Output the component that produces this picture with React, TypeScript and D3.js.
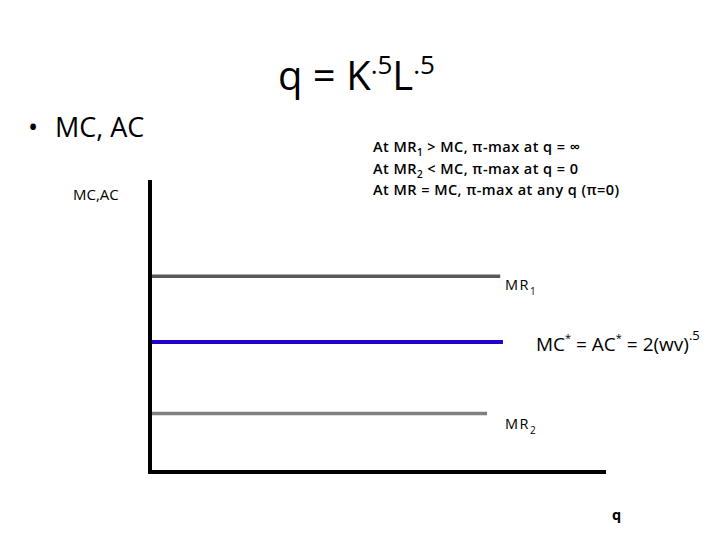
import React from "react";
import * as d3 from "d3";

// horizontal curves: level on the price axis, how far they run along q
const curveNames = ["MR1", "MC", "MR2"];
const curveLevels = [6.7, 4.45, 2.0];
const curveEnds = [7.68, 7.74, 7.39];
const curveColors = ["#595959", "#2200cc", "#808080"];

const notes = [
  ["At MR", "1", " > MC, π-max at q = ∞"],
  ["At MR", "2", " < MC, π-max at q = 0"],
  ["At MR = MC, π-max at any q (π=0)", "", ""],
];

const W = 720,
  H = 540;
const font = "'Open Sans', 'Noto Sans', sans-serif";

const App = () => {
  const x = d3.scaleLinear().domain([0, 10]).range([150, 606]);
  const y = d3.scaleLinear().domain([0, 10]).range([472, 180]);

  return (
    <svg
      width={W}
      height={H}
      style={{ position: "absolute", left: 0, top: 0, background: "#fff" }}
      fontFamily={font}
    >
      {/* title formula */}
      <text x={278} y={90} fontSize={40} fill="#000">
        q = K
        <tspan dy={-16} fontSize={26}>.5</tspan>
        <tspan dy={16}>L</tspan>
        <tspan dy={-16} fontSize={26}>.5</tspan>
      </text>

      <text x={28} y={137} fontSize={27} fill="#000">
        •<tspan x={55}>MC, AC</tspan>
      </text>

      {notes.map((n, i) => (
        <text
          key={i}
          x={373}
          y={152 + i * 21.5}
          fontSize={14.5}
          fontWeight={600}
          letterSpacing={0.45}
          fill="#000"
        >
          {n[0]}
          {n[1] && (
            <tspan dy={4} fontSize={10}>
              {n[1]}
            </tspan>
          )}
          {n[1] && <tspan dy={-4}>{n[2]}</tspan>}
        </text>
      ))}

      <text x={73} y={200} fontSize={15} fill="#000">
        MC,AC
      </text>

      {curveNames.map((name, i) => (
        <line
          key={name}
          x1={x(0)}
          x2={x(curveEnds[i])}
          y1={y(curveLevels[i])}
          y2={y(curveLevels[i])}
          stroke={curveColors[i]}
          strokeWidth={i === 1 ? 4 : 3.5}
        />
      ))}

      {/* axes */}
      <line x1={x(0)} x2={x(0)} y1={y(10)} y2={y(0) + 2} stroke="#000" strokeWidth={4} />
      <line x1={x(0) - 2} x2={x(10)} y1={y(0)} y2={y(0)} stroke="#000" strokeWidth={4} />

      <text x={505} y={y(curveLevels[0]) + 14} fontSize={14.5} letterSpacing={1.5} fill="#000">
        MR<tspan dy={5} fontSize={10}>1</tspan>
      </text>
      <text x={505} y={y(curveLevels[2]) + 15} fontSize={14.5} letterSpacing={1.5} fill="#000">
        MR<tspan dy={5} fontSize={10}>2</tspan>
      </text>

      <text x={536} y={y(curveLevels[1]) + 9} fontSize={19} fill="#000">
        MC<tspan dy={-9} fontSize={11}>*</tspan>
        <tspan dy={9}> = AC</tspan>
        <tspan dy={-9} fontSize={11}>*</tspan>
        <tspan dy={9}> = 2(wv)</tspan>
        <tspan dy={-11} fontSize={13}>.5</tspan>
      </text>

      <text x={612} y={520} fontSize={14.5} fontWeight="bold" fill="#000">
        q
      </text>
    </svg>
  );
};

export default App;
